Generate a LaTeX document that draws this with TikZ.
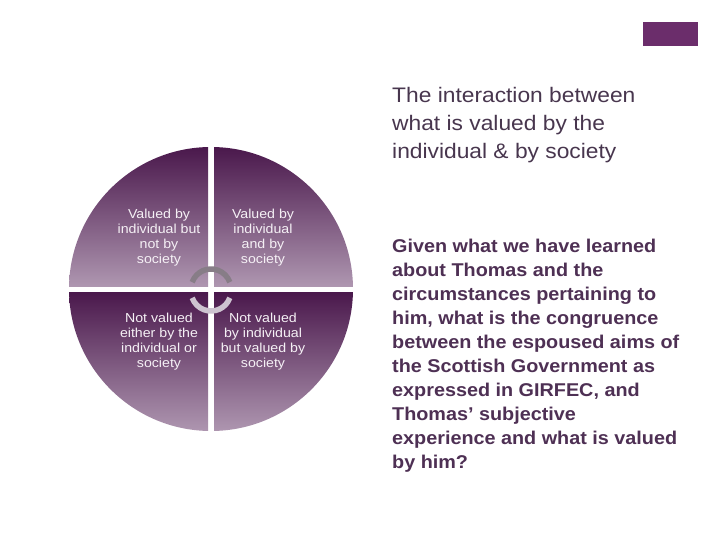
\documentclass[tikz,border=0pt]{standalone}
\usepackage{fontspec}
\setmainfont{Liberation Sans}
\newfontfamily\titlefont[FakeStretch=1.085]{Liberation Sans}
\newfontfamily\bodyfont[FakeStretch=1.07]{Liberation Sans}
\newfontfamily\quadfont[FakeStretch=1.09]{Liberation Sans}
\definecolor{qtop}{RGB}{74,24,76}
\definecolor{qbot}{RGB}{174,150,176}
\definecolor{boxc}{RGB}{107,45,107}
\definecolor{titlec}{RGB}{72,54,78}
\definecolor{bodyc}{RGB}{78,48,84}
\definecolor{qtxt}{RGB}{245,240,245}
\tikzset{
  qlabel/.style={text=qtxt, align=center, inner sep=0pt, anchor=north, font=\quadfont\fontsize{13}{15}\selectfont},
  titletext/.style={text=titlec, align=left, inner sep=0pt, anchor=north west, font=\titlefont\fontsize{21}{28}\selectfont},
  bodytext/.style={text=bodyc, align=left, inner sep=0pt, anchor=north west, font=\bodyfont\fontsize{18.5}{24}\selectfont\bfseries},
  quad/.style={top color=qtop, bottom color=qbot, draw=none}
}
\begin{document}
\begin{tikzpicture}[x=1pt,y=-1pt]
\path[use as bounding box, fill=white] (0,0) rectangle (720,540);
% top-right box
\fill[boxc] (643,22) rectangle (698,46);
% quadrants
\begin{scope}
\clip (211,289) circle (142);
\shade[quad] (60,147) rectangle (208,286);
\shade[quad] (214,147) rectangle (360,286);
\shade[quad] (60,292) rectangle (208,431);
\shade[quad] (214,292) rectangle (360,431);
\end{scope}
% arcs
\draw[line width=5.5pt, color={rgb,255:red,135;green,125;blue,135}] (211,289) ++(200:20) arc[start angle=200, end angle=340, radius=20];
\draw[line width=5.5pt, color={rgb,255:red,205;green,195;blue,208}] (211,291) ++(20:20) arc[start angle=20, end angle=160, radius=20];
% quadrant labels
\node[qlabel] (q1) at (159,209) {Valued by\\individual but\\not by\\society};
\node[qlabel] (q2) at (263,209) {Valued by\\individual\\and by\\society};
\node[qlabel] (q3) at (159,313) {Not valued\\either by the\\individual or\\society};
\node[qlabel] (q4) at (263,313) {Not valued\\by individual\\but valued by\\society};
% title
\node[titletext] (title) at (392,87) {The interaction between\\what is valued by the\\individual \& by society};
% body
\node[bodytext] (body) at (392,239) {Given what we have learned\\about Thomas and the\\circumstances pertaining to\\him, what is the congruence\\between the espoused aims of\\the Scottish Government as\\expressed in GIRFEC, and\\Thomas’ subjective\\experience and what is valued\\by him?};
\end{tikzpicture}
\end{document}
